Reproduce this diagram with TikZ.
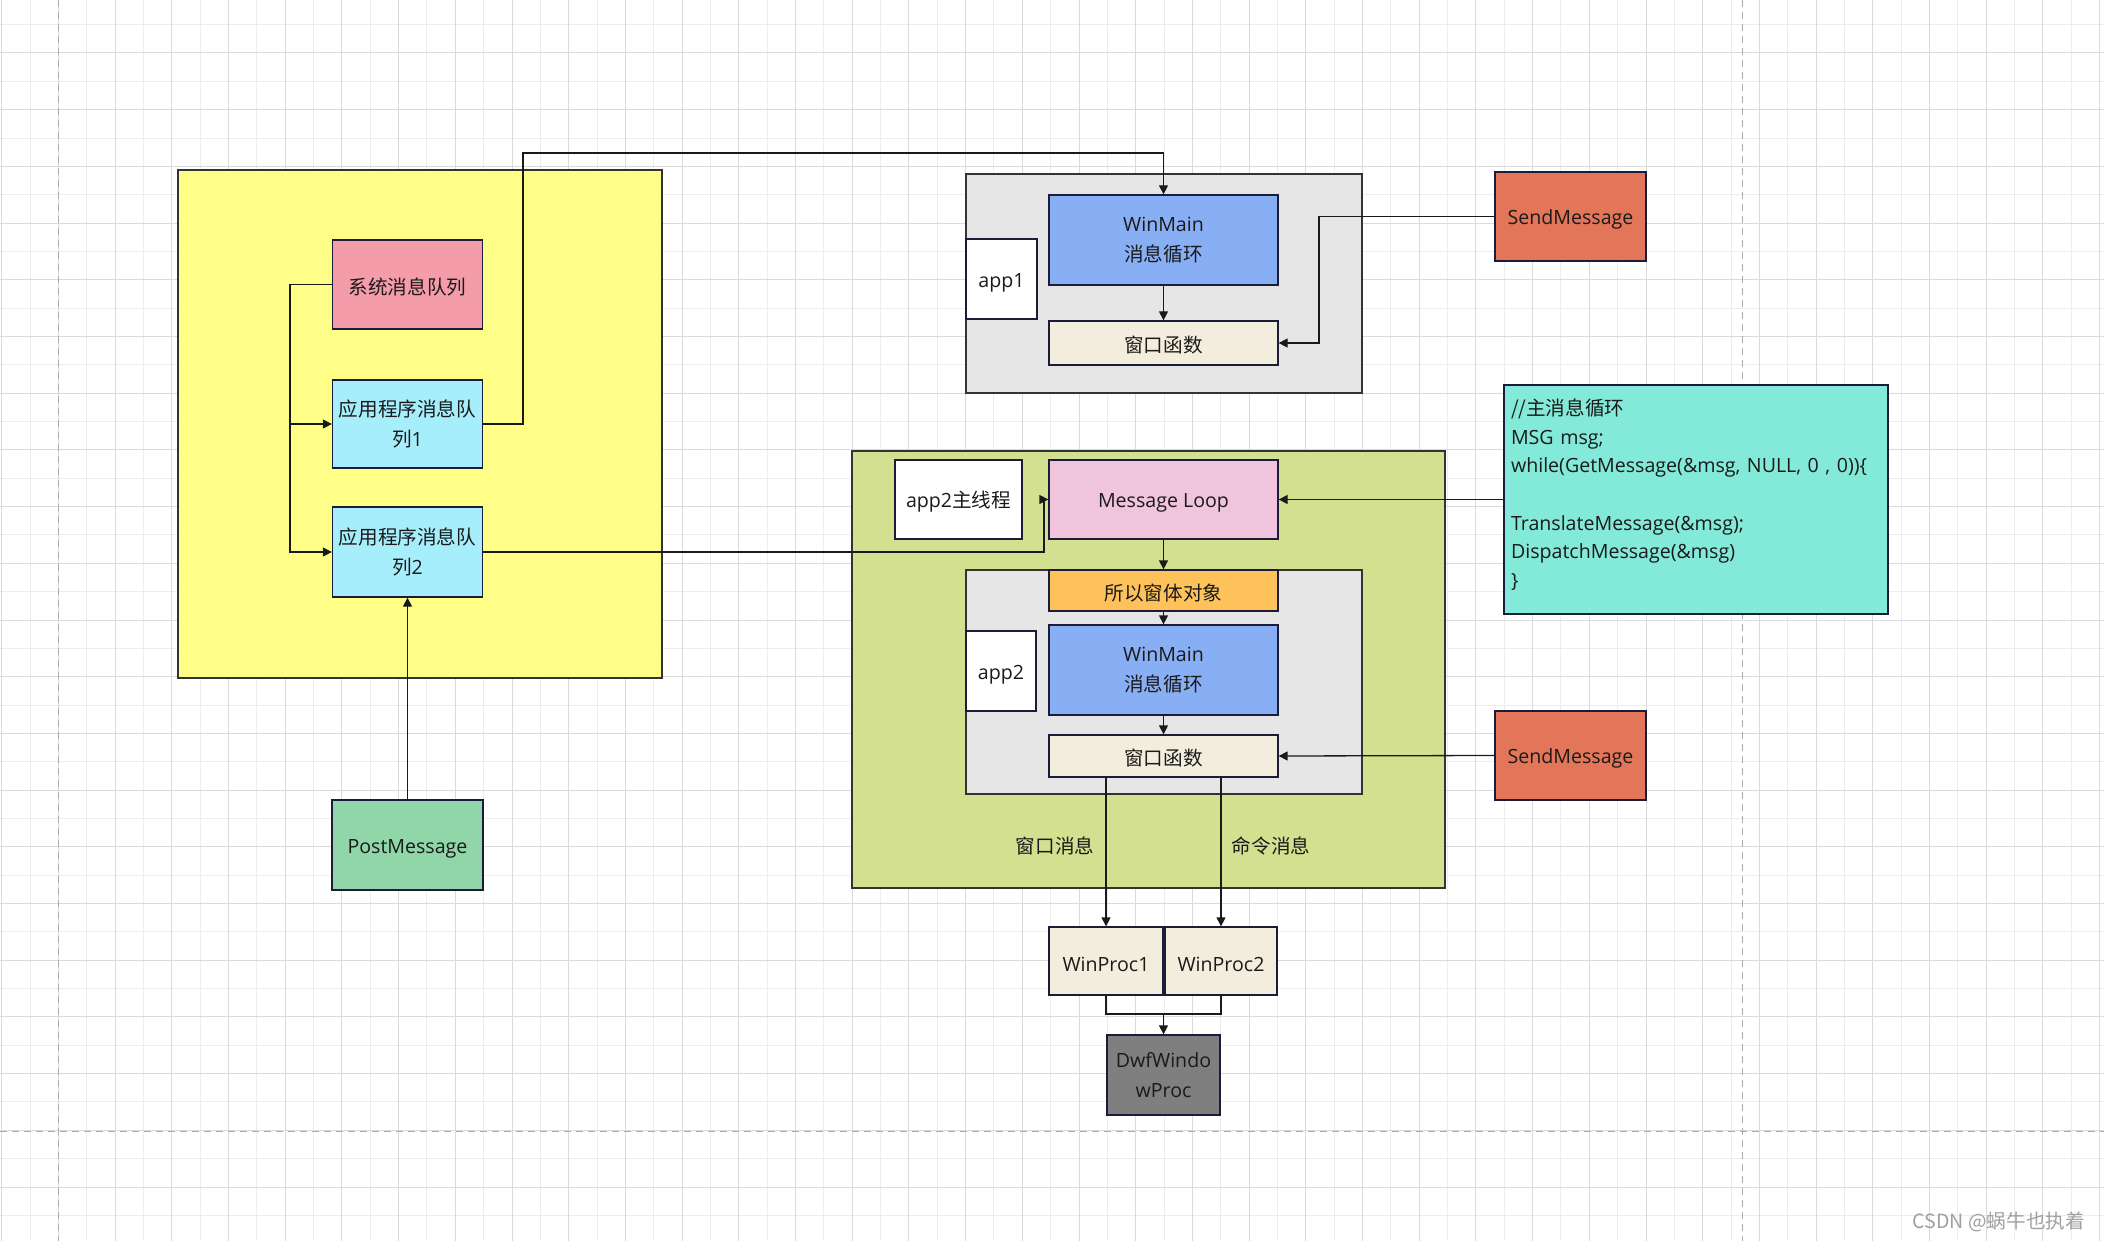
\documentclass[tikz,border=0pt]{standalone}
\usepackage{fontspec}
\setmainfont{Open Sans}
\newfontfamily\cjk{Noto Sans CJK SC}
\usetikzlibrary{arrows.meta}

\definecolor{gridmajor}{HTML}{DADADA}
\definecolor{gridminor}{HTML}{EDEDED}
\definecolor{pageline}{HTML}{ABABAB}
\definecolor{boxline}{HTML}{1C1C3A}
\definecolor{frameline}{HTML}{333333}
\definecolor{textcol}{HTML}{1A1A1A}
\definecolor{yellowbg}{HTML}{FFFF88}
\definecolor{pinkq}{HTML}{F49CAA}
\definecolor{cyanq}{HTML}{A6EEFC}
\definecolor{greenpost}{HTML}{90D6A8}
\definecolor{graybg}{HTML}{E6E6E6}
\definecolor{bluemain}{HTML}{88AEF3}
\definecolor{creamproc}{HTML}{F3EDDD}
\definecolor{sendcol}{HTML}{E37658}
\definecolor{greenbg}{HTML}{D2E08F}
\definecolor{pinkloop}{HTML}{F0C4DD}
\definecolor{orangeobj}{HTML}{FEC25B}
\definecolor{codecol}{HTML}{83EAD9}
\definecolor{dwfcol}{HTML}{7F7F7F}
\definecolor{markcol}{HTML}{A0A0A0}

\begin{document}
\begin{tikzpicture}[x=0.5pt, y=-0.5pt,
    every node/.style={font=\fontsize{9.8}{14.8}\selectfont, text=textcol},
    box/.style={draw=boxline, line width=0.65pt, inner sep=0pt, align=center,
        execute at begin node={\rule{0pt}{10.5pt}}},
    twoline/.style={execute at begin node={\rule{0pt}{13pt}}},
    frame/.style={draw=frameline, line width=0.75pt, inner sep=0pt},
    sz/.style 2 args={minimum width=#1*0.5pt, minimum height=#2*0.5pt},
    link/.style={draw=textcol, line width=0.65pt},
    arr/.style={link, -{Triangle[length=4.5pt, width=4.5pt]}}]

    % Canvas and grid
    \useasboundingbox (0,0) rectangle (2104,1241);
    \fill[white] (0,0) rectangle (2104,1241);
    \begin{scope}
        \clip (0,0) rectangle (2104,1241);
        \foreach \i in {0,...,36} {
            \draw[gridminor, line width=0.5pt] (30.05+56.7*\i,0) -- (30.05+56.7*\i,1241);
        }
        \foreach \i in {0,...,21} {
            \draw[gridminor, line width=0.5pt] (0,24.65+56.7*\i) -- (2104,24.65+56.7*\i);
        }
        \foreach \i in {0,...,37} {
            \draw[gridmajor, line width=0.5pt] (1.7+56.7*\i,0) -- (1.7+56.7*\i,1241);
        }
        \foreach \i in {0,...,21} {
            \draw[gridmajor, line width=0.5pt] (0,53+56.7*\i) -- (2104,53+56.7*\i);
        }
        \draw[pageline, line width=0.5pt, dash pattern=on 3.5pt off 2.5pt] (58,0) -- (58,1241);
        \draw[pageline, line width=0.5pt, dash pattern=on 3.5pt off 2.5pt] (1742,0) -- (1742,1241);
        \draw[pageline, line width=0.5pt, dash pattern=on 3.5pt off 2.5pt] (0,1131) -- (2104,1131);
    \end{scope}

    % Containers
    \node[frame, fill=yellowbg, sz={484}{508}] (sysbox) at (420,424) {};
    \node[frame, fill=graybg, sz={396}{219}] (app1box) at (1164,283.5) {};
    \node[frame, fill=greenbg, sz={593}{437}] (app2box) at (1148.5,669.5) {};
    \node[frame, fill=graybg, sz={396}{224}] (app2inner) at (1164,682) {};

    % Nodes with manual coordinates
    \node[box, fill=pinkq, sz={150}{89}] (sysq) at (407.5,284.5) {\cjk 系统消息队列};
    \node[box, twoline, fill=cyanq, sz={150}{88}] (appq1) at (407.5,424) {\cjk 应用程序消息队\\{\cjk 列}1};
    \node[box, twoline, fill=cyanq, sz={150}{90}] (appq2) at (407.5,552) {\cjk 应用程序消息队\\{\cjk 列}2};
    \node[box, fill=greenpost, sz={151}{90}] (post) at (407.5,845) {PostMessage};

    \node[box, fill=white, sz={71}{80}] (app1) at (1001.5,279) {app1};
    \node[box, twoline, fill=bluemain, sz={229}{90}] (mainA) at (1163.5,240) {WinMain\\{\cjk 消息循环}};
    \node[box, fill=creamproc, sz={229}{44}] (procA) at (1163.5,343) {\cjk 窗口函数};
    \node[box, fill=sendcol, sz={151}{89}] (sendA) at (1570.5,216.5) {SendMessage};

    \node[box, fill=white, sz={127}{79}] (app2thread) at (958.5,499.5) {app2{\cjk 主线程}};
    \node[box, fill=pinkloop, sz={229}{79}] (loop) at (1163.5,499.5) {Message Loop};
    \node[box, fill=orangeobj, sz={229}{41}] (allwin) at (1163.5,590.5) {\cjk 所以窗体对象};
    \node[box, fill=white, sz={70}{80}] (app2) at (1001,671) {app2};
    \node[box, twoline, fill=bluemain, sz={229}{90}] (mainB) at (1163.5,670) {WinMain\\{\cjk 消息循环}};
    \node[box, fill=creamproc, sz={229}{42}] (procB) at (1163.5,756) {\cjk 窗口函数};
    \node[box, fill=sendcol, sz={151}{89}] (sendB) at (1570.5,755.5) {SendMessage};

    \node[box, fill=codecol, sz={384}{229}, align=left, text width=370*0.5pt,
        font=\fontsize{9.8}{14.3}\selectfont, execute at begin node={}] (code) at (1696,499.5)
        {{\cjk //主消息循环}\\MSG msg;\\while(GetMessage(\&msg, NULL, 0 , 0))\{\\\mbox{}\\TranslateMessage(\&msg);\\DispatchMessage(\&msg)\\\}\rule[-8.5pt]{0pt}{0pt}};

    \node (wndmsg) at (1055,846) {\cjk 窗口消息};
    \node (cmdmsg) at (1271,846) {\cjk 命令消息};

    \node[box, fill=creamproc, sz={114}{68}] (proc1) at (1106,961) {WinProc1};
    \node[box, fill=creamproc, sz={112}{68}] (proc2) at (1221,961) {WinProc2};
    \node[box, twoline, fill=dwfcol, sz={113}{80}] (dwf) at (1163.5,1075) {DwfWindo\\wProc};

    \node[font=\cjk\fontsize{9.8}{11}\selectfont, text=markcol, anchor=east] (mark) at (2092,1222) {CSDN @蜗牛也执着};

    % Bend points
    \coordinate (bus) at (290,284.5);
    \coordinate (up1) at (523,424);
    \coordinate (top1) at (523,153);
    \coordinate (turn2) at (1044,552);
    \coordinate (turnA) at (1319,216.5);
    \coordinate (join) at (1163.5,1014);

    % Edges
    \draw[arr] (sysq.west) -- (bus) |- (appq1.west);
    \draw[arr] (bus) |- (appq2.west);
    \draw[arr] (appq1.east) -- (up1) -- (top1) -| (mainA.north);
    \draw[arr] (appq2.east) -- (turn2) |- (loop.west);
    \draw[arr] (post.north) -- (appq2.south);
    \draw[arr] (mainA.south) -- (procA.north);
    \draw[arr] (sendA.west) -- (turnA) |- (procA.east);
    \draw[arr] (code.west) -- (loop.east);
    \draw[arr] (loop.south) -- (allwin.north);
    \draw[arr] (allwin.south) -- (mainB.north);
    \draw[arr] (mainB.south) -- (procB.north);
    \draw[arr] (sendB.west) -- (procB.east);
    \draw[arr] (procB.south -| proc1.north) -- (proc1.north);
    \draw[arr] (procB.south -| proc2.north) -- (proc2.north);
    \draw[link] (proc1.south) |- (join) -| (proc2.south);
    \draw[arr] (join) -- (dwf.north);
\end{tikzpicture}
\end{document}
